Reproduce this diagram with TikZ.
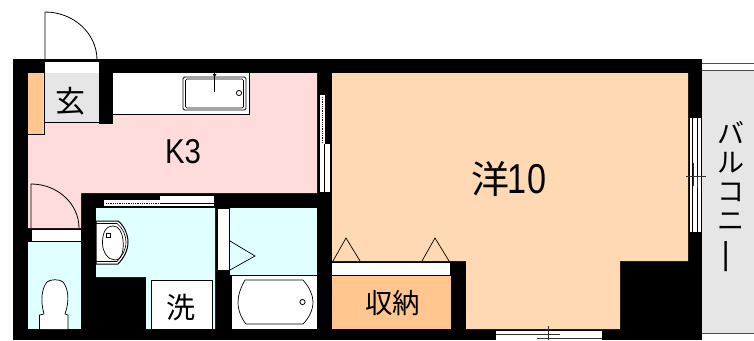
\documentclass[tikz,border=0pt]{standalone}
\usepackage{fontspec}
\setmainfont{Noto Sans CJK JP}
\newfontfamily\latinf{Liberation Sans}
\definecolor{pinkc}{HTML}{FFDCDC}
\definecolor{peachc}{HTML}{FFD9B3}
\definecolor{orangec}{HTML}{FFC78F}
\definecolor{cyanc}{HTML}{E0FFFF}
\definecolor{grayc}{HTML}{E6E6E6}
\tikzset{
  fillwall/.style={fill=black,draw=none},
  fixt/.style={draw=black,fill=white,line width=0.8pt},
  roomlabel/.style={inner sep=0pt,text=black},
}
\begin{document}
\begin{tikzpicture}[x=1pt,y=-1pt]
\useasboundingbox (0,0) rectangle (754,340);
\fill[white] (0,0) rectangle (754,340);
% balcony
\fill[grayc] (702,70) rectangle (754,333);
\draw[black!70,line width=0.8pt] (702,63) -- (754,63);
\draw[black!70,line width=0.8pt] (702,70) -- (754,70);
\draw[black!70,line width=0.8pt] (702,333) -- (754,333);
% wall mass
\fill[fillwall] (13,59) rectangle (702,340);
% K3
\fill[pinkc] (28,73) -- (317,73) -- (317,193) -- (81,193) -- (81,228) -- (28,228) -- cycle;
% genkan
\fill[orangec] (28,73) rectangle (43,134);
\draw[black,line width=0.6pt] (28,134) -- (44,134) -- (44,73);
\fill[grayc] (44.5,73) rectangle (99,122);
\draw[black,line width=0.6pt] (44,122) -- (99,122);
\fill[white] (45,62) rectangle (99,73);
\fill[fillwall] (99,73) rectangle (113,123.5);
% kitchen counter
\fill[white] (113,73) rectangle (249,114);
\draw[black,line width=0.6pt] (113,114) -- (249,114) -- (249,73);
\draw[black,line width=0.8pt,rounded corners=1.5pt] (183,77) rectangle (246,110);
\draw[black,line width=0.7pt,rounded corners=1.5pt] (185.5,79) rectangle (243.5,108);
\draw[black,line width=0.7pt] (214.5,73) -- (214.5,92);
\fill[black] (212.5,74) -- (216.5,74) -- (214.5,77) -- cycle;
\draw[black,fill=white,line width=0.8pt] (239,93) circle (2.6);
% room 洋
\fill[peachc] (332,73) -- (688,73) -- (688,261) -- (620,261) -- (620,329) -- (466,329) -- (466,261) -- (332,261) -- cycle;
% storage
\fill[white] (332,263) rectangle (450,275);
\fill[orangec] (332,276) rectangle (451,329);
\draw[black,line width=0.7pt] (333,261) -- (346,238) -- (360,261);
\draw[black,line width=0.7pt] (422,261) -- (435,238) -- (449,261);
% toilet
\fill[white] (32,230) rectangle (81,241);
\fill[cyanc] (28,241.5) rectangle (81,329);
\draw[black,fill=white,line width=0.7pt]
  (39.5,329) -- (39.5,315) -- (44,314) .. controls (40,300) and (42,288) .. (47,282)
  .. controls (50,279) and (60,279) .. (63,282) .. controls (68,288) and (70,300) .. (65,314)
  -- (68,315) -- (68,329);
% door leaves
\draw[black,line width=0.8pt] (45,60) -- (45,12) .. controls (73.7,12) and (97,33.5) .. (97,60);
\draw[black,line width=0.8pt] (31,228) -- (31,184) .. controls (57.5,184) and (79,203.7) .. (79,228);
% washroom
\fill[cyanc] (96,208) -- (215,208) -- (215,329) -- (146,329) -- (146,277) -- (96,277) -- cycle;
\fill[fixt] (151,280) rectangle (212,329.5);
\draw[black,fill=white,line width=1pt] (96,221) -- (118,221) .. controls (125,226) and (128,236) .. (128,242)
  .. controls (128,250) and (124,258) .. (118,264) -- (96,264) -- cycle;
\draw[black,line width=0.6pt] (96,223.5) -- (117,223.5) .. controls (123,228) and (126,236) .. (126,242)
  .. controls (126,250) and (122,256) .. (117,261.5) -- (96,261.5);
\draw[black,line width=0.7pt] (113,226) .. controls (104,226) and (102.5,236) .. (102.5,243)
  .. controls (102.5,252) and (108,260) .. (115,260) .. controls (122,260) and (124,250) .. (123,240)
  .. controls (122,232) and (119,226) .. (113,226) -- cycle;
\draw[black,fill=white,line width=0.7pt] (106,233) rectangle (110,237);
% wash window
\fill[white] (104,200) rectangle (214,206);
\fill[white] (160,195.5) rectangle (214,203);
\draw[black,line width=0.6pt] (160,203) -- (214,203);
\draw[black,densely dotted,line width=0.8pt] (106,203) -- (160,203);
% bath
\fill[white] (218,209) rectangle (229,270);
\fill[cyanc] (230,208) rectangle (317,275);
\fill[white] (232,276) rectangle (317,329);
\draw[black,line width=0.7pt] (230,241) -- (255,256) -- (230,270);
\draw[black,line width=0.7pt] (245,280) -- (303,280) .. controls (310,288) and (313,296) .. (313,302)
  .. controls (313,310) and (309,318) .. (303,324) -- (246,324)
  .. controls (241,318) and (238,310) .. (238,302) .. controls (238,295) and (241,287) .. (245,280) -- cycle;
\draw[black,fill=white,line width=0.8pt] (302.5,302) circle (2.6);
% K3 side window
\fill[white] (320,95) rectangle (324.5,145);
\fill[white] (320,144) rectangle (330,192);
\draw[black,densely dotted,line width=0.8pt] (322.5,97) -- (322.5,143);
\draw[black,line width=0.7pt] (324.5,144) -- (324.5,192);
% right window
\fill[white] (690,118) rectangle (701,232);
\draw[black,line width=0.8pt] (692,118) -- (692,232);
\draw[black,line width=0.8pt] (697,118) -- (697,232);
\draw[black!80,line width=0.7pt] (686,176) -- (706,176);
\draw[black!80,line width=0.7pt] (693.5,163) -- (693.5,186);
\draw[black!80,line width=0.7pt] (697,176) -- (697,188);
% bottom window
\fill[white] (496,331) rectangle (602,340);
\draw[black!80,line width=0.8pt] (496,334) -- (560,334);
\draw[black!80,line width=0.8pt] (537,338) -- (602,338);
\draw[black!80,line width=0.7pt] (548,326) -- (548,340);
% labels
\node[roomlabel,font=\fontsize{30}{30}\selectfont] (genkan) at (70.5,101) {玄};
\node[roomlabel,font=\latinf\fontsize{30}{30}\selectfont] (kthree) at (183,152) {\scalebox{0.98}[1.15]{K3}};
\node[roomlabel,font=\fontsize{38}{38}\selectfont] (yoshitsu) at (509,179.5) {洋\hspace{-2pt}{\latinf\scalebox{0.9}[1.1]{10}}};
\node[roomlabel,font=\fontsize{29}{29}\selectfont] (sen) at (181,307) {洗};
\node[roomlabel,font=\fontsize{27.5}{27.5}\selectfont] (shuno) at (392.5,303.5) {収納};
\node[roomlabel,font=\fontsize{27}{29}\selectfont,align=center] (balc) at (731,198.5) {バ\\ル\\コ\\ニ\\[3pt]\rotatebox[origin=c]{90}{\scalebox{1.4}[1.0]{ー}}};
\end{tikzpicture}
\end{document}
